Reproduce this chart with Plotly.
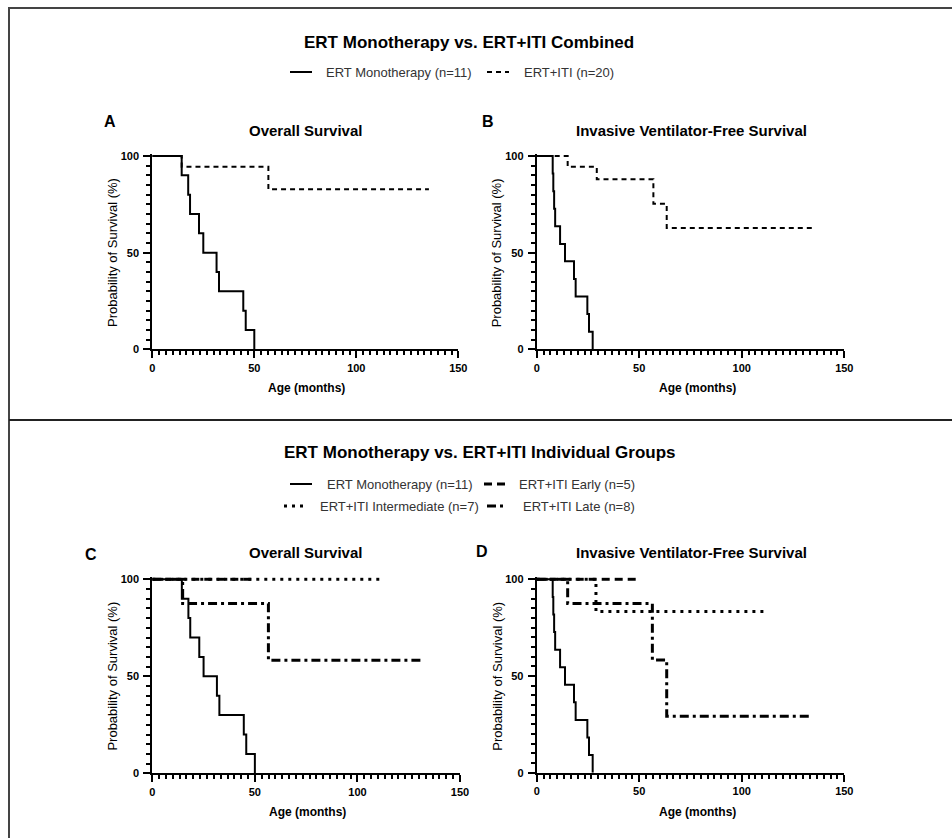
import plotly.graph_objects as go

W, H = 952, 838
FONT = "Arial, Liberation Sans, sans-serif"

# ---------------- data ----------------
x_tick_step = 50
y_tick_step = 50

# Overall survival
mono_os_t = [0, 14.4, 17.6, 18.5, 22.9, 25.0, 31.5, 32.7, 44.6, 45.8, 50.0]
mono_os_s = [100, 90, 80, 70, 60, 50, 40, 30, 20, 10, 0]
iti_os_t = [0, 14.4, 56.9, 135.6]
iti_os_s = [100, 94.4, 82.8, 82.8]
early_os_t = [0, 49.0]
early_os_s = [100, 100]
inter_os_t = [0, 112.5]
inter_os_s = [100, 100]
late_os_t = [0, 14.8, 56.6, 132.1]
late_os_s = [100, 87.5, 58.3, 58.3]

# Invasive ventilator-free survival
mono_vfs_t = [0, 7.8, 8.1, 8.5, 9.0, 11.4, 13.8, 18.2, 19.0, 24.7, 25.5, 27.3]
mono_vfs_s = [100, 90.9, 81.8, 72.7, 63.6, 54.5, 45.5, 36.4, 27.3, 18.2, 9.1, 0]
iti_vfs_t = [0, 15.1, 29.3, 56.9, 63.4, 135.7]
iti_vfs_s = [100, 94.4, 88.0, 75.3, 62.8, 62.8]
early_vfs_t = [0, 48.8]
early_vfs_s = [100, 100]
inter_vfs_t = [0, 28.9, 111.3]
inter_vfs_s = [100, 83.3, 83.3]
late_vfs_t = [0, 15.1, 56.4, 63.4, 133.3]
late_vfs_s = [100, 87.5, 58.3, 29.2, 29.2]

name_mono = "ERT Monotherapy (n=11)"
name_iti = "ERT+ITI (n=20)"
name_early = "ERT+ITI Early (n=5)"
name_inter = "ERT+ITI Intermediate (n=7)"
name_late = "ERT+ITI Late (n=8)"

# ---------------- styles ----------------
STY = {
    "mono": dict(width=2, dash="solid"),
    "iti": dict(width=2, dash="5px,4px"),
    "early": dict(width=3, dash="8px,5px"),
    "inter": dict(width=3, dash="3px,5px"),
    "late": dict(width=3, dash="9px,4px,3px,4px"),
}


def px(xp):
    return xp / W


def py(yp):
    return 1 - yp / H


YMAX = 101.0
# panel pixel boxes: (x0, x150, y100, y0)
panels = {
    "A": (152.3, 458.3, 156.0, 349.3),
    "B": (536.7, 844.3, 156.0, 349.3),
    "C": (152.3, 460.0, 579.3, 773.3),
    "D": (536.7, 844.3, 579.3, 772.7),
}

fig = go.Figure()
layout = dict(
    template="none",
    width=W, height=H,
    margin=dict(l=0, r=0, t=0, b=0),
    paper_bgcolor="white", plot_bgcolor="white",
    showlegend=False,
    font=dict(family=FONT, color="black"),
)

ax_ids = {"A": "", "B": "2", "C": "3", "D": "4"}
for key, (x0p, x1p, y100p, y0p) in panels.items():
    i = ax_ids[key]
    ytop = y0p - YMAX * (y0p - y100p) / 100.0
    layout["xaxis" + i] = dict(
        domain=[px(x0p), px(x1p)], range=[0, 150], anchor="y" + i,
        showline=True, linewidth=2, linecolor="black", mirror=False,
        showgrid=False, zeroline=False,
        ticks="outside", ticklen=7, tickwidth=2, tickcolor="black",
        tickmode="linear", tick0=0, dtick=x_tick_step,
        tickfont=dict(family=FONT, size=11, color="black", weight="bold"),
        minor=dict(ticks="outside", ticklen=4, tickwidth=1.5, tickcolor="black",
                   tickmode="linear", dtick=x_tick_step / 15, tick0=0, showgrid=False),
        fixedrange=True,
    )
    layout["yaxis" + i] = dict(
        domain=[py(y0p), py(ytop)], range=[0, YMAX], anchor="x" + i,
        showline=True, linewidth=2, linecolor="black",
        showgrid=False, zeroline=False,
        ticks="outside", ticklen=7, tickwidth=2, tickcolor="black",
        tickmode="linear", tick0=0, dtick=y_tick_step,
        tickfont=dict(family=FONT, size=11, color="black", weight="bold"),
        ticklabelstandoff=2,
        minor=dict(ticks="outside", ticklen=4, tickwidth=1.5, tickcolor="black",
                   tickmode="linear", dtick=y_tick_step / 10, tick0=0, showgrid=False),
        fixedrange=True,
    )


def add_km(t, s, name, style, key):
    i = ax_ids[key]
    fig.add_trace(go.Scatter(
        x=t, y=s, name=name, mode="lines", line_shape="hv",
        line=dict(color="black", **STY[style]),
        xaxis="x" + i, yaxis="y" + i, hoverinfo="name+x+y",
    ))


# Panel A
add_km(iti_os_t, iti_os_s, name_iti, "iti", "A")
add_km(mono_os_t, mono_os_s, name_mono, "mono", "A")
# Panel B
add_km(iti_vfs_t, iti_vfs_s, name_iti, "iti", "B")
add_km(mono_vfs_t, mono_vfs_s, name_mono, "mono", "B")
# Panel C
add_km(inter_os_t, inter_os_s, name_inter, "inter", "C")
add_km(late_os_t, late_os_s, name_late, "late", "C")
add_km(early_os_t, early_os_s, name_early, "early", "C")
add_km(mono_os_t, mono_os_s, name_mono, "mono", "C")
# Panel D
add_km(inter_vfs_t, inter_vfs_s, name_inter, "inter", "D")
add_km(late_vfs_t, late_vfs_s, name_late, "late", "D")
add_km(early_vfs_t, early_vfs_s, name_early, "early", "D")
add_km(mono_vfs_t, mono_vfs_s, name_mono, "mono", "D")

fig.update_layout(**layout)

annotations = []
shapes = []


def text(xp, yp, s, size, bold=False, color="black", xanchor="center", angle=0):
    annotations.append(dict(
        x=px(xp), y=py(yp), xref="paper", yref="paper", text=s, showarrow=False,
        xanchor=xanchor, yanchor="middle", textangle=angle,
        font=dict(family=FONT, size=size, color=color, weight="bold" if bold else "normal"),
    ))


# Section titles
text(469, 42, "ERT Monotherapy vs. ERT+ITI Combined", 17, bold=True)
text(480, 453, "ERT Monotherapy vs. ERT+ITI Individual Groups", 17, bold=True)

# Panel letters
text(110, 121, "A", 16, bold=True)
text(488, 121, "B", 16, bold=True)
text(91, 554, "C", 16, bold=True)
text(482, 551, "D", 16, bold=True)

# Panel titles
text(305, 130, "Overall Survival", 15, bold=True)
text(691, 130, "Invasive Ventilator-Free Survival", 15, bold=True)
text(305, 552, "Overall Survival", 15, bold=True)
text(691, 552, "Invasive Ventilator-Free Survival", 15, bold=True)

# Axis titles
for key, (x0p, x1p, y100p, y0p) in panels.items():
    xc = (x0p + x1p) / 2 + (7 if key in ("B", "D") else 1)
    text(xc, y0p + 39, "Age (months)", 12, bold=True)
    text(x0p - 40, (y100p + y0p) / 2, "Probability of Survival (%)", 13, angle=-90)

# Legends (keys + labels)
LEG = "#333333"


def key_line(x0, x1, y, style):
    st = STY[style]
    shapes.append(dict(type="line", xref="paper", yref="paper",
                       x0=px(x0), x1=px(x1), y0=py(y), y1=py(y),
                       line=dict(color="black", width=st["width"], dash=st["dash"])))


key_line(290, 312, 72, "mono")
text(324, 72, name_mono, 13, color=LEG, xanchor="left")
key_line(487, 509, 72, "iti")
text(522, 72, name_iti, 13, color=LEG, xanchor="left")

key_line(290, 312, 484, "mono")
text(325, 484, name_mono, 13, color=LEG, xanchor="left")
key_line(484, 506, 484, "early")
text(517, 484, name_early, 13, color=LEG, xanchor="left")
key_line(284, 304, 506, "inter")
text(318, 506, name_inter, 13, color=LEG, xanchor="left")
key_line(487, 507, 506, "late")
text(521, 506, name_late, 13, color=LEG, xanchor="left")

# Frame and separator
shapes.append(dict(type="rect", xref="paper", yref="paper",
                   x0=px(9), x1=1.02, y0=-0.02, y1=py(8),
                   line=dict(color="#444444", width=2), fillcolor="rgba(0,0,0,0)"))
shapes.append(dict(type="line", xref="paper", yref="paper",
                   x0=px(9), x1=1.02, y0=py(420), y1=py(420),
                   line=dict(color="#222222", width=2)))

fig.update_layout(annotations=annotations, shapes=shapes)

fig.write_html(
    "out.html",
    post_script="document.body.style.margin='0';document.body.style.overflow='hidden';",
    config={"displayModeBar": False},
)
